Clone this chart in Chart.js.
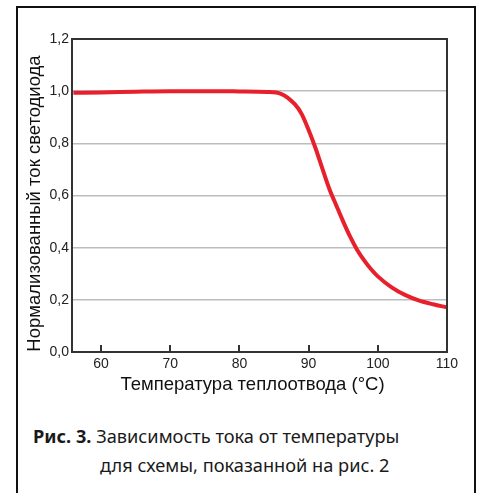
<!DOCTYPE html>
<html lang="ru">
<head>
    <meta charset="UTF-8">
    <title>Рис. 3</title>
    <script src="https://cdn.jsdelivr.net/npm/chart.js"></script>
    <style>
        body {
            margin: 0;
            background: #fff;
            width: 477px;
            height: 493px;
            overflow: hidden;
            position: relative;
        }
        .frame {
            position: absolute;
            left: 16px;
            top: 6px;
            width: 456px;
            height: 520px;
            border: 2px solid #111;
        }
        .chart-box {
            position: absolute;
            left: 0;
            top: 0;
            width: 477px;
            height: 400px;
        }
        .caption {
            position: absolute;
            font-family: "Noto Sans", sans-serif;
            font-size: 18.2px;
            color: #1a1a1a;
            white-space: nowrap;
        }
        .caption b { font-weight: 700; }
    </style>
</head>
<body>
    <div class="frame"></div>
    <div class="chart-box">
        <canvas id="chart" width="477" height="400"></canvas>
    </div>
    <div class="caption" style="left:33px; top:424px;"><b>Рис. 3.</b> Зависимость тока от температуры</div>
    <div class="caption" style="left:100px; top:453px;">для схемы, показанной на рис. 2</div>

    <script>
        // values
        const temps = [56, 60, 65, 70, 75, 80, 84, 86, 88, 89, 90, 91, 92, 93, 94, 95, 96, 97, 98, 99, 100, 102, 104, 106, 108, 110];
        const current = [0.994, 0.995, 0.998, 1.0, 1.0, 0.999, 0.997, 0.99, 0.95, 0.912, 0.851, 0.781, 0.702, 0.625, 0.562, 0.50, 0.442, 0.392, 0.352, 0.318, 0.29, 0.248, 0.218, 0.197, 0.183, 0.171];
        const xTicks = [60, 70, 80, 90, 100, 110];
        const yTicks = [0, 0.2, 0.4, 0.6, 0.8, 1.0, 1.2];
        const xTitle = 'Температура теплоотвода (°C)';
        const yTitle = 'Нормализованный ток светодиода';

        const points = temps.map((t, i) => ({ x: t, y: current[i] }));

        // frame round the plot, inward ticks on the x axis, axis titles
        const frameAndTitles = {
            id: 'frameAndTitles',
            afterDraw(chart) {
                const { ctx, chartArea: a, scales } = chart;
                ctx.save();
                ctx.strokeStyle = '#333';
                ctx.lineWidth = 2;
                ctx.strokeRect(a.left, a.top, a.right - a.left, a.bottom - a.top);
                ctx.beginPath();
                xTicks.forEach(v => {
                    const px = Math.round(scales.x.getPixelForValue(v));
                    ctx.moveTo(px, a.bottom);
                    ctx.lineTo(px, a.bottom - 7);
                });
                ctx.stroke();

                ctx.fillStyle = '#111';
                ctx.font = '18.5px "Liberation Sans", Arial, sans-serif';
                ctx.textAlign = 'center';
                ctx.textBaseline = 'alphabetic';
                ctx.fillText(xTitle, (a.left + a.right) / 2 - 7, a.bottom + 38);

                ctx.translate(a.left - 32, (a.top + a.bottom) / 2 + 8);
                ctx.rotate(-Math.PI / 2);
                ctx.fillText(yTitle, 0, 0);
                ctx.restore();
            }
        };

        new Chart(document.getElementById('chart'), {
            type: 'line',
            data: {
                datasets: [{
                    data: points,
                    borderColor: '#e8202b',
                    borderWidth: 4,
                    pointRadius: 0,
                    fill: false,
                    cubicInterpolationMode: 'monotone'
                }]
            },
            options: {
                responsive: false,
                animation: false,
                layout: { padding: { left: 0, top: 39, right: 30, bottom: 0 } },
                plugins: {
                    legend: { display: false },
                    tooltip: { enabled: false }
                },
                scales: {
                    x: {
                        type: 'linear',
                        min: 55.8,
                        max: 110,
                        afterBuildTicks: s => { s.ticks = xTicks.map(v => ({ value: v })); },
                        afterFit: s => { s.height = 48; },
                        grid: { display: false, drawTicks: false },
                        border: { display: false },
                        ticks: {
                            padding: 4,
                            color: '#222',
                            font: { family: 'Liberation Sans', size: 14 },
                            maxRotation: 0
                        }
                    },
                    y: {
                        min: 0,
                        max: 1.2,
                        afterBuildTicks: s => { s.ticks = yTicks.map(v => ({ value: v })); },
                        afterFit: s => { s.width = 72; },
                        grid: { color: '#bdbdbd', lineWidth: 1.5, drawTicks: false },
                        border: { display: false },
                        ticks: {
                            padding: 3,
                            color: '#222',
                            font: { family: 'Liberation Sans', size: 14 },
                            callback: v => v.toFixed(1).replace('.', ',')
                        }
                    }
                }
            },
            plugins: [frameAndTitles]
        });
    </script>
</body>
</html>
